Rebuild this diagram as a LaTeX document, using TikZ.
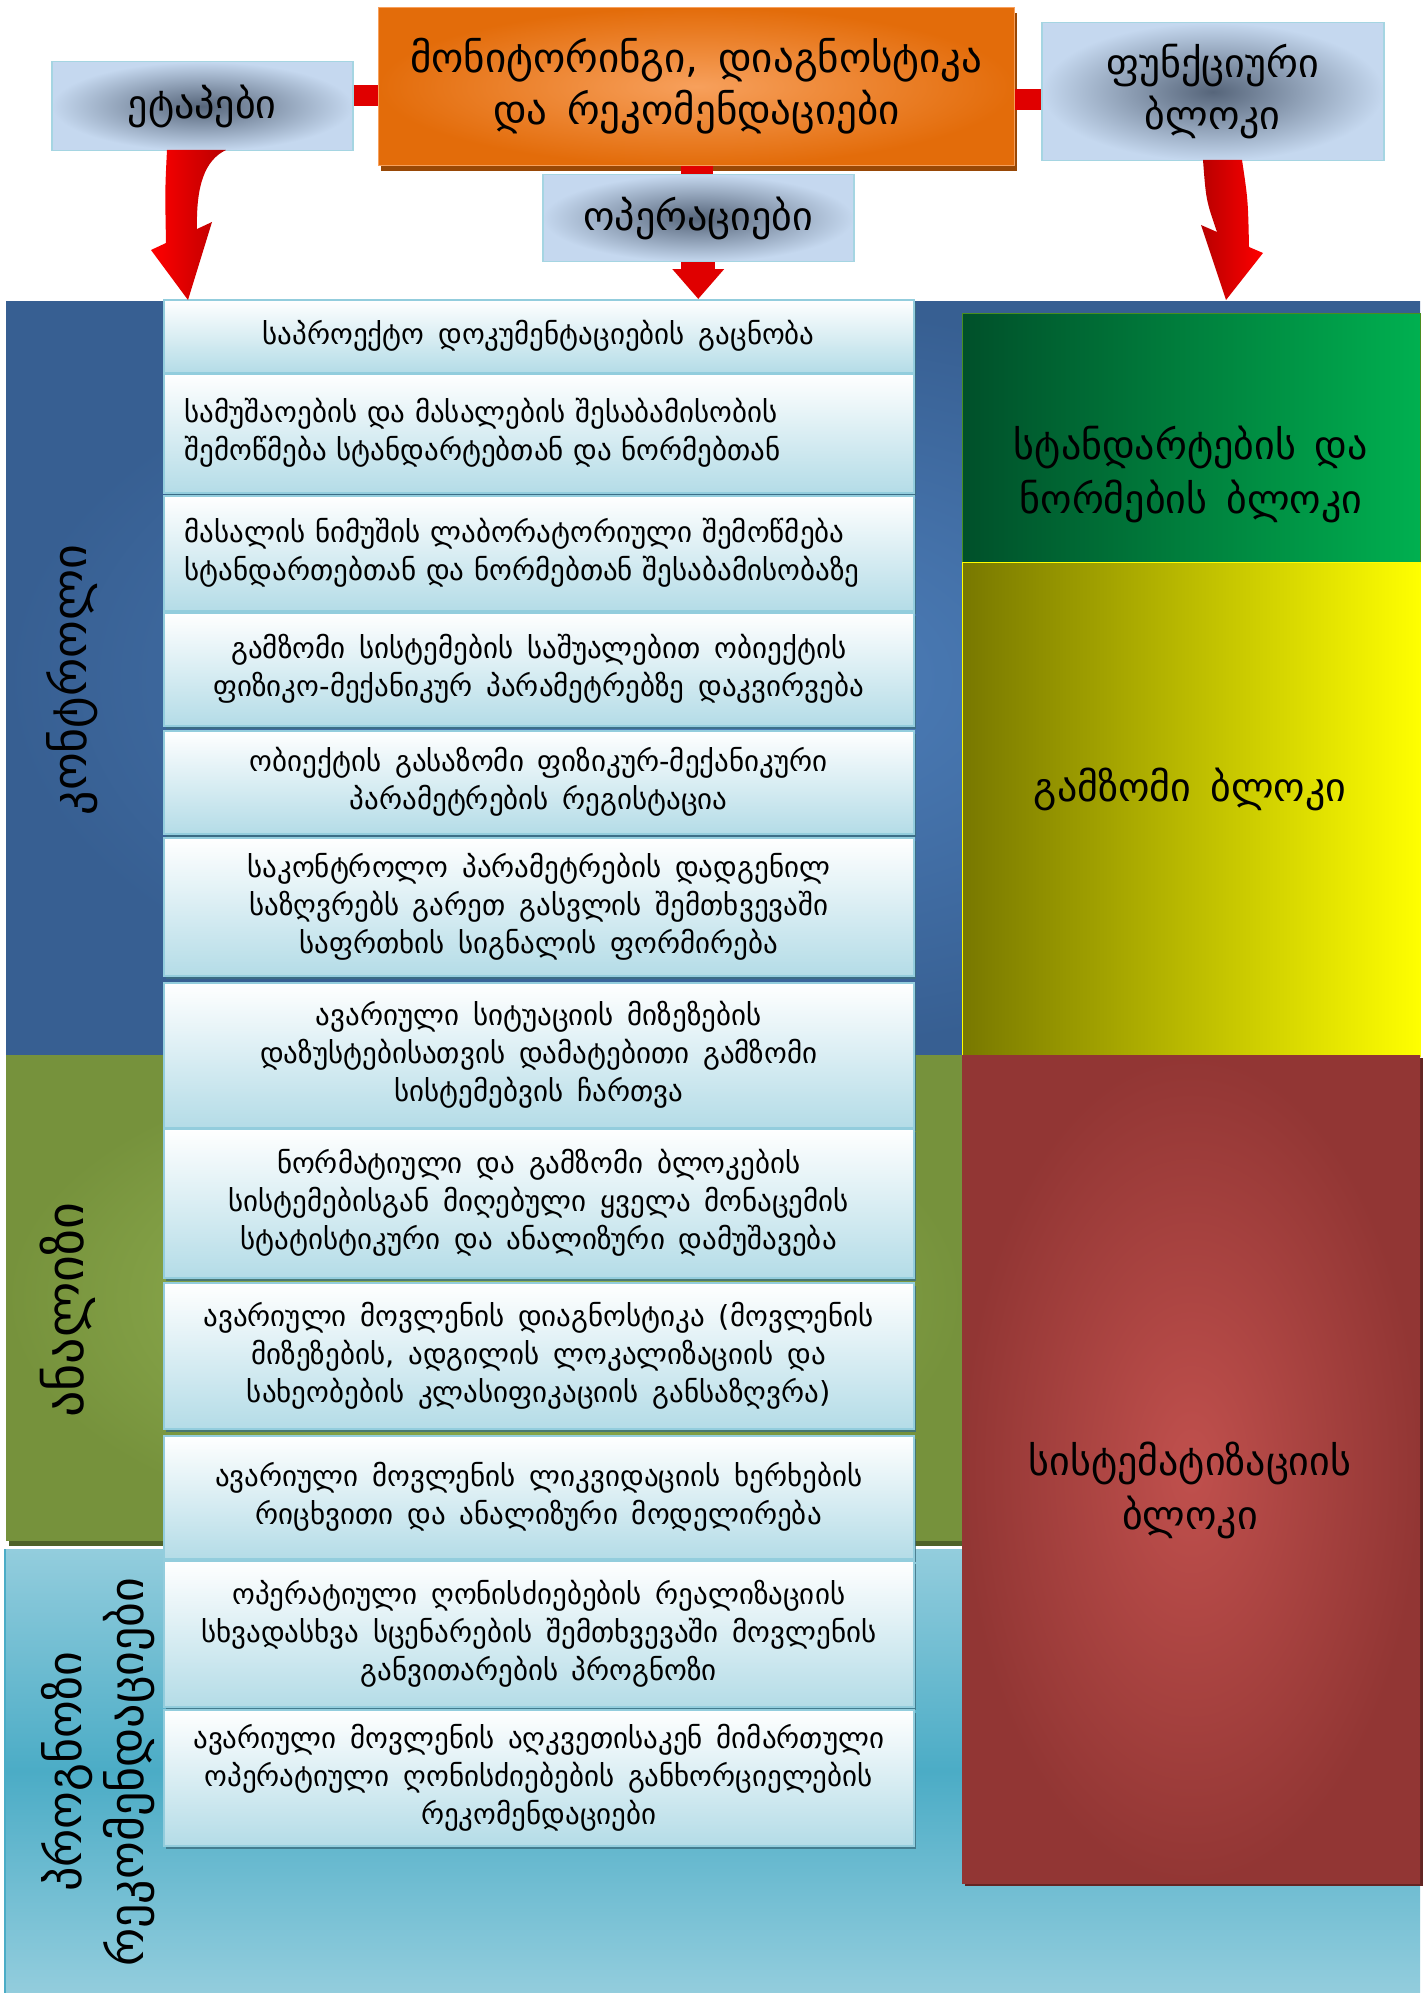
\documentclass[tikz,border=0pt]{standalone}
\usepackage{fontspec}
\setmainfont{DejaVu Sans}[WordSpace=1.5]
\usetikzlibrary{shadows,arrows.meta,calc}
\definecolor{bandblue}{HTML}{375F92}
\definecolor{bandblueL}{HTML}{4F81BD}
\definecolor{bandgreen}{HTML}{76923C}
\definecolor{bandgreenL}{HTML}{9BBB59}
\definecolor{bandgreenS}{HTML}{4F6228}
\definecolor{lbTop}{HTML}{93CDDD}
\definecolor{lbMid}{HTML}{4BACC6}
\definecolor{boxBot}{HTML}{B4DCE7}
\definecolor{boxEdge}{HTML}{93CDDD}
\definecolor{boxShadow}{HTML}{3B6E80}
\definecolor{topOut}{HTML}{C5D8EF}
\definecolor{topIn}{HTML}{56657A}
\definecolor{topEdge}{HTML}{A5D5E2}
\definecolor{orIn}{HTML}{F7A05C}
\definecolor{orOut}{HTML}{E36C0A}
\definecolor{orShadow}{HTML}{984806}
\definecolor{grL}{HTML}{00502A}
\definecolor{grR}{HTML}{00B050}
\definecolor{yeL}{HTML}{787800}
\definecolor{yeR}{HTML}{FFFF00}
\definecolor{rdIn}{HTML}{C0504D}
\definecolor{rdOut}{HTML}{923634}
\definecolor{rdShadow}{HTML}{632523}
\definecolor{arrL}{HTML}{FF0000}
\definecolor{arrR}{HTML}{B80000}
\definecolor{arrM}{HTML}{E00000}
\newcommand\geoMid{\fontsize{29}{38}\selectfont}
\newcommand\geoTop{\fontsize{40}{52}\selectfont}
\newcommand\geoOr{\fontsize{41}{52}\selectfont}
\newcommand\geoRight{\fontsize{40}{54}\selectfont}
\newcommand\geoLeft{\fontsize{48}{62}\selectfont}
\newcommand\geoLeftB{\fontsize{52}{62}\selectfont}
\tikzset{
  mbox/.style={draw=boxEdge, line width=1.5pt, top color=white, bottom color=boxBot,
    anchor=north west, minimum width=750pt, inner sep=0pt, align=center, font=\geoMid,
    drop shadow={shadow xshift=2pt, shadow yshift=-3pt, fill=boxShadow, opacity=0.8}},
  topbox/.style={draw=topEdge, line width=1.5pt, shading=radial, inner color=topIn, outer color=topOut,
    anchor=north west, inner sep=0pt, align=center, font=\geoTop},
  bar/.style={draw=arrM, line cap=butt},
  rblock/.style={anchor=north west, minimum width=458pt, inner sep=0pt},
  rtext/.style={align=center, font=\geoRight, text=black},
  ltext/.style={align=center, font=\geoLeft, rotate=90, text=black}
}
\begin{document}
\begin{tikzpicture}[x=1pt,y=-1pt]
\useasboundingbox[fill=white] (0,0) rectangle (1427,1993);
% background bands
\shade[inner color=bandblueL, outer color=bandblue] (6,301) rectangle (1420,1055);
\fill[bandgreenS] (9,1055) rectangle (963,1546);
\shade[inner color=bandgreenL, outer color=bandgreen] (6,1055) rectangle (963,1540);
\shade[top color=lbTop, bottom color=lbTop, middle color=lbMid] (5,1549) rectangle (1420,1993);
\draw[lbMid, line width=1.5pt] (5,1549) -- (5,1993);
% right blocks
\node[rblock, minimum height=249pt, left color=grL, right color=grR, draw=yeL!60!grR, line width=1pt] (std) at (962,313) {};
\node[rblock, minimum height=494pt, left color=yeL, right color=yeR, draw=yeR, line width=1pt] (izm) at (962,562) {};
\node[rblock, minimum height=828pt, shading=radial, inner color=rdIn, outer color=rdOut,
  drop shadow={shadow xshift=3pt, shadow yshift=-3pt, fill=rdShadow, opacity=1}] (sis) at (962,1055) {};
\node[rtext] (stdt) at (1191,474) {სტანდარტების და\\ნორმების ბლოკი};
\node[rtext] (izmt) at (1190,789) {გამზომი ბლოკი};
\node[rtext] (sist) at (1190,1490) {სისტემატიზაციის\\ბლოკი};
% left labels
\node[ltext] (kon) at (72,680) {კონტროლი};
\node[ltext, font=\geoLeftB] (ana) at (68,1310) {ანალიზი};
\node[ltext] (pro) at (98,1772) {პროგნოზი\\რეკომენდაციები};
% middle boxes
\node[mbox, minimum height=73pt] (b1) at (163,299) {საპროექტო დოკუმენტაციების გაცნობა};
\node[mbox, minimum height=119pt, align=left, text width=708pt] (b2) at (163,373) {სამუშაოების და მასალების შესაბამისობის\\შემოწმება სტანდარტებთან და ნორმებთან};
\node[mbox, minimum height=115pt, align=left, text width=708pt] (b3) at (163,495) {მასალის ნიმუშის ლაბორატორიული შემოწმება\\სტანდართებთან და ნორმებთან შესაბამისობაზე};
\node[mbox, minimum height=113pt] (b4) at (163,612) {გამზომი სისტემების საშუალებით ობიექტის\\ფიზიკო-მექანიკურ პარამეტრებზე დაკვირვება};
\node[mbox, minimum height=103pt] (b5) at (163,730) {ობიექტის გასაზომი ფიზიკურ-მექანიკური\\პარამეტრების რეგისტაცია};
\node[mbox, minimum height=138pt] (b6) at (163,837) {საკონტროლო პარამეტრების დადგენილ\\საზღვრებს გარეთ გასვლის შემთხვევაში\\საფრთხის სიგნალის ფორმირება};
\node[mbox, minimum height=145pt] (b7) at (163,982) {ავარიული სიტუაციის მიზეზების\\დაზუსტებისათვის დამატებითი გამზომი\\სისტემებვის ჩართვა};
\node[mbox, minimum height=149pt] (b8) at (163,1128) {ნორმატიული და გამზომი ბლოკების\\სისტემებისგან მიღებული ყველა მონაცემის\\სტატისტიკური და ანალიზური დამუშავება};
\node[mbox, minimum height=146pt] (b9) at (163,1282) {ავარიული მოვლენის დიაგნოსტიკა (მოვლენის\\მიზეზების, ადგილის ლოკალიზაციის და\\სახეობების კლასიფიკაციის განსაზღვრა)};
\node[mbox, minimum height=123pt] (b10) at (163,1435) {ავარიული მოვლენის ლიკვიდაციის ხერხების\\რიცხვითი და ანალიზური მოდელირება};
\node[mbox, minimum height=146pt] (b11) at (163,1560) {ოპერატიული ღონისძიებების რეალიზაციის\\სხვადასხვა სცენარების შემთხვევაში მოვლენის\\განვითარების პროგნოზი};
\node[mbox, minimum height=136pt] (b12) at (163,1709) {ავარიული მოვლენის აღკვეთისაკენ მიმართული\\ოპერატიული ღონისძიებების განხორციელების\\რეკომენდაციები};
% top boxes
\node[topbox, minimum width=301pt, minimum height=89pt] (etap) at (51,61) {ეტაპები};
\node[anchor=north west, minimum width=636pt, minimum height=158pt, inner sep=0pt, shading=radial,
  inner color=orIn, outer color=orOut, draw=orIn, line width=1pt, align=center, font=\geoOr,
  drop shadow={shadow xshift=2pt, shadow yshift=-6pt, fill=orShadow, opacity=1}] (mon) at (378,7)
  {მონიტორინგი, დიაგნოსტიკა\\და რეკომენდაციები};
\node[topbox, minimum width=342pt, minimum height=138pt] (fun) at (1041,22) {ფუნქციური\\ბლოკი};
% connectors
\draw[bar, line width=21pt] ([yshift=11pt]etap.east) -- ([yshift=11pt]etap.east -| mon.west);
\draw[bar, line width=21pt] ([yshift=-7.5pt]fun.west) -- ([yshift=-7.5pt]fun.west -| mon.east);
\draw[bar, line width=32pt] (mon.south) -- (mon.south |- 0,174);
\node[topbox, minimum width=311pt, minimum height=87pt] (oper) at (542,174) {ოპერაციები};
\draw[arrM, line width=34pt, -{Triangle[length=30pt,width=50pt]}] (oper.south) -- (oper.south |- b1.north);
% curved arrows
\shade[left color=arrL, right color=arrR] (167,150) .. controls (165,190) .. (166,243) -- (151,250) -- (188,300) -- (212,222) -- (197,229) .. controls (196,185) and (205,160) .. (226,150) -- cycle;
\shade[left color=arrR, right color=arrL] (1203,160) .. controls (1206,200) .. (1217,232) -- (1201,225) -- (1226,300) -- (1263,253) -- (1249,247) .. controls (1248,200) .. (1242,160) -- cycle;
\end{tikzpicture}
\end{document}
